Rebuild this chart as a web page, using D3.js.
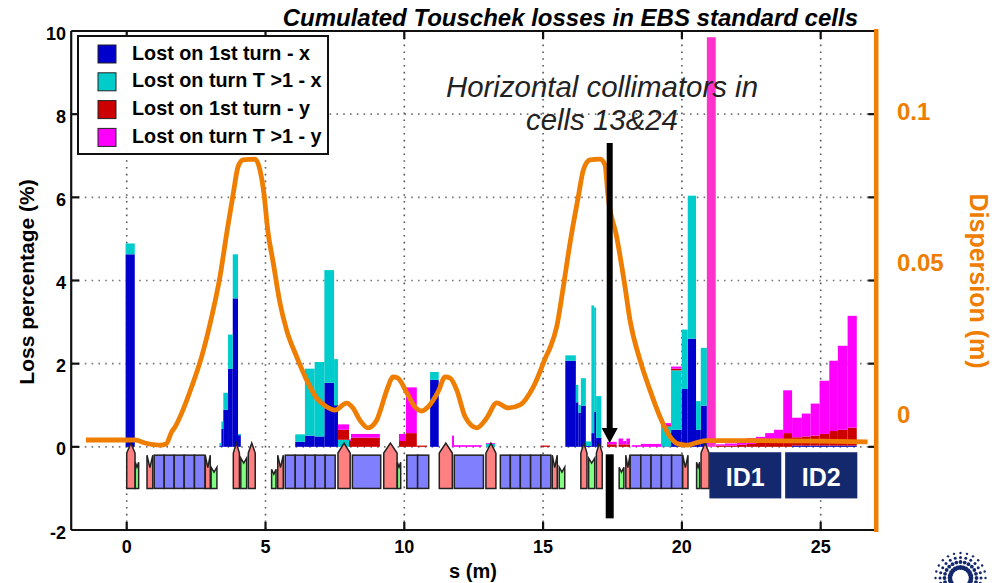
<!DOCTYPE html>
<html>

<head>
  <meta charset="UTF-8">
  <title>Cumulated Touschek losses</title>
  <script src="https://d3js.org/d3.v7.min.js"></script>
  <style>
    body {
      margin: 0;
      padding: 0;
      background: white;
      overflow: hidden;
    }

    svg {
      display: block;
      font-family: "Liberation Sans", Arial, sans-serif;
    }

    .tick-label {
      font-size: 18px;
      font-weight: bold;
    }

    .legend-text {
      font-size: 19.8px;
      font-weight: bold;
    }
  </style>
</head>

<body>
  <svg id="chart" width="1000" height="583"></svg>

  <script>
    // loss bins, s in metres
    var binStart = [-0.04, 3.34, 3.41, 3.48, 3.65, 3.82, 4.01, 6.07, 6.42, 6.77, 7.12, 7.47, 7.61, 8.01, 8.08, 9.81, 10.06, 10.45, 10.93, 11.72, 11.79, 12.94, 14.91, 15.8, 16.18, 16.27, 16.36, 16.54, 16.74, 16.84, 16.91, 17.3, 17.72, 17.88, 18.0, 18.19, 18.52, 19.25, 19.61, 19.99, 20.21, 20.51, 20.68, 20.9, 21.23, 21.55, 21.98, 22.33, 22.67, 23.0, 23.32, 23.65, 23.97, 24.32, 24.64, 24.96, 25.31, 25.62, 25.97];
    var binEnd = [0.29, 3.41, 3.48, 3.65, 3.82, 4.01, 4.11, 6.42, 6.77, 7.12, 7.47, 7.61, 8.01, 8.08, 9.12, 10.06, 10.45, 10.82, 11.24, 11.79, 12.79, 13.27, 15.25, 16.18, 16.27, 16.36, 16.54, 16.74, 16.84, 16.91, 17.1, 17.65, 17.88, 18.0, 18.13, 18.52, 19.25, 19.61, 19.99, 20.21, 20.51, 20.68, 20.9, 21.22, 21.55, 21.98, 22.33, 22.67, 23.0, 23.32, 23.65, 23.97, 24.32, 24.64, 24.96, 25.31, 25.62, 25.97, 26.3];
    var lost1x = [4.63, 0.03, 0.43, 0.89, 1.88, 3.57, 0.28, 0.12, 0.27, 0.25, 1.54, 1.0, 0, 0, 0, 0, 0, 0, 1.61, 0, 0, 0, 0, 2.07, 1.07, 0.82, 0.99, 0.02, 0.33, 0.85, 0.22, 0, 0, 0, 0, 0, 0, 0.01, 0.41, 1.39, 2.6, 0.41, 0.99, 0, 0, 0, 0, 0, 0, 0, 0, 0, 0.03, 0.03, 0.03, 0.03, 0.03, 0.03, 0.03];
    var lostTx = [0.26, 0.06, 0.18, 0.41, 0.82, 1.06, 0.03, 0.18, 1.61, 1.79, 2.71, 1.11, 0.17, 0, 0, 0, 0, 0, 0.19, 0, 0, 0.07, 0, 0.13, 0.42, 0.19, 0.66, 0.11, 3.07, 2.5, 1.0, 0, 0, 0, 0, 0, 0, 0.48, 1.43, 1.43, 3.44, 0.69, 1.39, 0, 0, 0, 0, 0, 0, 0, 0, 0, 0, 0, 0, 0, 0, 0, 0];
    var lost1y = [0, 0, 0, 0, 0, 0, 0, 0, 0, 0, 0, 0, 0.24, 0.14, 0.22, 0.14, 0.33, 0.03, 0, 0, 0, 0, 0.03, 0, 0, 0, 0, 0, 0, 0, 0, 0.06, 0.06, 0.06, 0.06, 0, 0, 0.03, 0.04, 0, 0, 0, 0, 0, 0.03, 0.03, 0.05, 0.07, 0.1, 0.14, 0.19, 0.33, 0.2, 0.22, 0.24, 0.28, 0.35, 0.38, 0.43];
    var lostTy = [0, 0, 0, 0, 0, 0, 0, 0, 0, 0, 0, 0, 0.13, 0.04, 0.09, 0.17, 1.1, 0, 0, 0.27, 0.04, 0.02, 0, 0, 0, 0, 0, 0, 0, 0, 0, 0.06, 0.14, 0.08, 0.14, 0.04, 0.07, 0.05, 0.05, 0, 0, 0, 0, 0, 0.03, 0.05, 0.08, 0.14, 0.14, 0.19, 0.22, 1.03, 0.47, 0.55, 0.77, 1.28, 1.69, 2.02, 2.69];
    // the tall bar in front of cell end, it has its own pink
    var lostTyEnd = [0, 0, 0, 0, 0, 0, 0, 0, 0, 0, 0, 0, 0, 0, 0, 0, 0, 0, 0, 0, 0, 0, 0, 0, 0, 0, 0, 0, 0, 0, 0, 0, 0, 0, 0, 0, 0, 0, 0, 0, 0, 0, 0, 9.85, 0, 0, 0, 0, 0, 0, 0, 0, 0, 0, 0, 0, 0, 0, 0];

    var legendLabels = ["Lost on 1st turn - x", "Lost on turn T >1 - x", "Lost on 1st turn - y", "Lost on turn T >1 - y"];

    // dispersion curve
    var dispS = [-1.47, 0.30, 0.66, 1.20, 1.42, 1.62, 1.74, 1.98, 2.34, 2.70, 3.06, 3.36, 3.62, 3.83, 4.01, 4.19, 4.62, 4.80, 4.95, 5.08, 5.28, 5.52, 5.76, 6.12, 6.48, 6.84, 7.20, 7.50, 7.92, 8.15, 8.40, 8.69, 9.01, 9.12, 9.37, 9.60, 9.77, 10.09, 10.38, 10.63, 10.86, 11.22, 11.47, 11.65, 11.89, 12.19, 12.61, 12.97, 13.33, 13.75, 14.17, 14.65, 15.13, 15.25, 15.49, 15.73, 15.97, 16.27, 16.45, 16.69, 17.05, 17.23, 17.34, 17.65, 17.95, 18.13, 18.49, 18.85, 19.21, 19.57, 19.86, 20.17, 20.53, 20.89, 22.45, 26.69];
    var dispVal = [-0.0086, -0.0086, -0.0096, -0.0103, -0.0099, -0.0059, -0.0043, 0.0003, 0.0090, 0.0190, 0.0322, 0.0455, 0.0609, 0.0725, 0.0818, 0.0841, 0.0844, 0.0808, 0.0725, 0.0609, 0.0500, 0.0368, 0.0278, 0.0190, 0.0113, 0.0053, 0.0024, 0.0013, 0.0036, 0.0020, -0.0020, -0.0046, -0.0020, 0.0007, 0.0079, 0.0123, 0.0119, 0.0070, 0.0024, 0.0010, 0.0024, 0.0074, 0.0123, 0.0119, 0.0079, -0.0009, -0.0046, -0.0013, 0.0037, 0.0020, 0.0030, 0.0090, 0.0195, 0.0219, 0.0289, 0.0422, 0.0566, 0.0720, 0.0808, 0.0841, 0.0844, 0.0825, 0.0720, 0.0587, 0.0422, 0.0311, 0.0179, 0.0079, -0.0009, -0.0075, -0.0099, -0.0103, -0.0095, -0.0088, -0.0088, -0.0092];

    // lattice magnets along s
    var dipoleEdges = [
      [0.99, 1.35, 1.71, 2.07, 2.44, 2.82],
      [5.71, 6.07, 6.43, 6.79, 7.15, 7.51],
      [8.13, 9.15],
      [10.09, 10.48, 10.88],
      [11.80, 12.85],
      [13.46, 13.82, 14.18, 14.55, 14.92, 15.28],
      [18.13, 18.52, 18.89, 19.26, 19.63, 20.02]
    ];
    var quadStart = [0, 3.84, 4.38, 7.61, 9.26, 11.26, 12.94, 16.36, 16.92, 20.69];
    var quadEnd = [0.30, 4.06, 4.63, 8.05, 9.74, 11.73, 13.30, 16.58, 17.13, 20.98];
    var smallQuadStart = [0.73, 2.83, 5.44, 15.33, 17.98, 20.03];
    var smallQuadEnd = [0.94, 3.01, 5.64, 15.51, 18.13, 20.22];
    var sextStart = [0.31, 3.04, 4.11, 5.22, 9.75, 15.58, 16.64, 17.74, 20.53];
    var sextEnd = [0.43, 3.25, 4.32, 5.38, 9.87, 15.78, 16.86, 17.91, 20.64];
    var sextTop = [-0.37, -0.49, -0.27, -0.54, -0.37, -0.49, -0.27, -0.49, -0.37];

    var xTicks = [0, 5, 10, 15, 20, 25];
    var yTicks = [-2, 0, 2, 4, 6, 8, 10];
    var dispTicks = [0, 0.05, 0.1];

    var colors = ["#0000cc", "#00cccc", "#cc0000", "#ff00ff", "#ff33cc"];
    var orange = "#ee7d00";

    var svg = d3.select("#chart");

    var x = d3.scaleLinear().domain([-2, 27]).range([71.2, 876.2]);
    var y = d3.scaleLinear().domain([-2, 10]).range([530, 31]);
    var yDisp = d3.scaleLinear().domain([-0.0384, 0.1268]).range([530, 31]);

    // grid
    svg.append("g").selectAll("line").data(xTicks).enter().append("line")
      .attr("x1", d => x(d)).attr("x2", d => x(d))
      .attr("y1", y(10)).attr("y2", y(-2))
      .attr("stroke", "#555").attr("stroke-width", 1.6).attr("stroke-dasharray", "1.6 5.2");
    svg.append("g").selectAll("line").data(yTicks.slice(1, -1)).enter().append("line")
      .attr("x1", x(-2)).attr("x2", x(27))
      .attr("y1", d => y(d)).attr("y2", d => y(d))
      .attr("stroke", "#777").attr("stroke-width", 1.6).attr("stroke-dasharray", "1.6 5.2");

    // stacked loss bars
    var rows = binStart.map(function (s, i) {
      return { start: s, end: binEnd[i], a: lost1x[i], b: lostTx[i], c: lost1y[i], d: lostTy[i], e: lostTyEnd[i] };
    });
    var stack = d3.stack().keys(["a", "b", "c", "d", "e"]);
    svg.append("g").selectAll("g").data(stack(rows)).enter().append("g")
      .attr("fill", (d, i) => colors[i])
      .selectAll("rect").data(d => d.filter(p => p[1] > p[0])).enter().append("rect")
      .attr("x", d => x(d.data.start))
      .attr("width", d => x(d.data.end) - x(d.data.start))
      .attr("y", d => y(d[1]))
      .attr("height", d => y(d[0]) - y(d[1]));

    // lattice
    var lattice = svg.append("g").attr("stroke", "#222").attr("stroke-width", 1.5).attr("stroke-linejoin", "miter");
    var poly = d3.line().x(d => x(d[0])).y(d => y(d[1]));

    dipoleEdges.forEach(function (edges) {
      d3.pairs(edges).forEach(function (p) {
        lattice.append("rect")
          .attr("x", x(p[0])).attr("width", x(p[1]) - x(p[0]))
          .attr("y", y(-0.2)).attr("height", y(-1) - y(-0.2))
          .attr("fill", "#8080ff");
      });
    });
    quadStart.forEach(function (s, i) {
      var e = quadEnd[i];
      lattice.append("path")
        .attr("d", poly([[s, -1], [s, -0.15], [(s + e) / 2, 0.09], [e, -0.15], [e, -1]]) + "Z")
        .attr("fill", "#ff8080");
    });
    smallQuadStart.forEach(function (s, i) {
      var e = smallQuadEnd[i];
      lattice.append("path")
        .attr("d", poly([[s, -1], [s, -0.2], [(s + e) / 2, -0.5], [e, -0.2], [e, -1]]) + "Z")
        .attr("fill", "#ff8080");
    });
    sextStart.forEach(function (s, i) {
      var e = sextEnd[i], t = sextTop[i];
      lattice.append("path")
        .attr("d", poly([[s, -1], [s, t], [(s + e) / 2, t - 0.12], [e, t], [e, -1]]) + "Z")
        .attr("fill", "#80ff80");
    });

    // ID boxes
    var idBoxes = [{ s0: 20.99, s1: 23.58, name: "ID1" }, { s0: 23.72, s1: 26.32, name: "ID2" }];
    idBoxes.forEach(function (b) {
      svg.append("rect")
        .attr("x", x(b.s0)).attr("width", x(b.s1) - x(b.s0))
        .attr("y", y(-0.13)).attr("height", y(-1.24) - y(-0.13))
        .attr("fill", "#14286e");
      svg.append("text")
        .attr("x", (x(b.s0) + x(b.s1)) / 2).attr("y", 486)
        .attr("text-anchor", "middle")
        .attr("fill", "white").attr("font-size", 25).attr("font-weight", "bold")
        .text(b.name);
    });

    // dispersion
    svg.append("path")
      .datum(dispS.map((s, i) => [s, dispVal[i]]))
      .attr("fill", "none")
      .attr("stroke", orange)
      .attr("stroke-width", 4.8)
      .attr("stroke-linejoin", "round")
      .attr("d", d3.line().x(d => x(d[0])).y(d => yDisp(d[1])).curve(d3.curveMonotoneX));

    // frame
    var frame = svg.append("g").attr("stroke", "#111").attr("stroke-width", 2.2);
    frame.append("line").attr("x1", x(-2)).attr("x2", x(-2)).attr("y1", y(10)).attr("y2", y(-2));
    frame.append("line").attr("x1", x(-2)).attr("x2", x(27)).attr("y1", y(10)).attr("y2", y(10));
    frame.append("line").attr("x1", x(-2)).attr("x2", x(27)).attr("y1", y(-2)).attr("y2", y(-2));
    xTicks.forEach(function (t) {
      frame.append("line").attr("x1", x(t)).attr("x2", x(t)).attr("y1", y(-2)).attr("y2", y(-2) - 8);
      frame.append("line").attr("x1", x(t)).attr("x2", x(t)).attr("y1", y(10)).attr("y2", y(10) + 8);
    });
    yTicks.slice(1, -1).forEach(function (t) {
      frame.append("line").attr("x1", x(-2)).attr("x2", x(-2) + 8).attr("y1", y(t)).attr("y2", y(t));
      frame.append("line").attr("x1", x(27)).attr("x2", x(27) - 8).attr("y1", y(t)).attr("y2", y(t));
    });
    svg.append("line")
      .attr("x1", x(27)).attr("x2", x(27)).attr("y1", y(10) - 2).attr("y2", y(-2) + 2)
      .attr("stroke", orange).attr("stroke-width", 4.5);

    // tick labels
    xTicks.forEach(function (t) {
      svg.append("text").attr("class", "tick-label").attr("x", x(t)).attr("y", 553)
        .attr("text-anchor", "middle").text(t);
    });
    yTicks.forEach(function (t) {
      svg.append("text").attr("class", "tick-label").attr("x", 66).attr("y", y(t) + 8.5)
        .attr("text-anchor", "end").text(t);
    });
    dispTicks.forEach(function (t) {
      svg.append("text").attr("x", 897).attr("y", yDisp(t) + 8.5)
        .attr("fill", orange).attr("font-size", 24).attr("font-weight", "bold").text(t);
    });

    // axis titles
    svg.append("text").attr("x", 473).attr("y", 578).attr("text-anchor", "middle")
      .attr("font-size", 20).attr("font-weight", "bold").text("s (m)");
    svg.append("text").attr("transform", "translate(34,282) rotate(-90)").attr("text-anchor", "middle")
      .attr("font-size", 21).attr("font-weight", "bold").text("Loss percentage (%)");
    svg.append("text").attr("transform", "translate(970,281) rotate(90)").attr("text-anchor", "middle")
      .attr("fill", orange).attr("font-size", 25).attr("font-weight", "bold").text("Dispersion (m)");
    svg.append("text").attr("x", 858).attr("y", 25.5).attr("text-anchor", "end")
      .attr("font-size", 24).attr("font-weight", "bold").attr("font-style", "italic")
      .text("Cumulated Touschek losses in EBS standard cells");

    // legend
    svg.append("rect").attr("x", 78).attr("y", 36).attr("width", 250).attr("height", 118)
      .attr("fill", "white").attr("stroke", "#111").attr("stroke-width", 2);
    legendLabels.forEach(function (label, i) {
      var ly = 53.5 + i * 27.8;
      svg.append("rect").attr("x", 98).attr("y", ly - 8.5).attr("width", 18).attr("height", 18)
        .attr("fill", colors[i]).attr("stroke", "#222").attr("stroke-width", 1);
      svg.append("text").attr("class", "legend-text").attr("x", 132).attr("y", ly + 6).text(label);
    });

    // collimator annotation
    svg.append("text").attr("x", 602).attr("y", 97).attr("text-anchor", "middle")
      .attr("font-size", 29.4).attr("font-style", "italic").attr("fill", "#222").text("Horizontal collimators in");
    svg.append("text").attr("x", 602).attr("y", 130).attr("text-anchor", "middle")
      .attr("font-size", 29.4).attr("font-style", "italic").attr("fill", "#222").text("cells 13&24");

    var colS = 17.4;
    svg.append("line").attr("x1", x(colS)).attr("x2", x(colS)).attr("y1", 143).attr("y2", 430)
      .attr("stroke", "black").attr("stroke-width", 6);
    svg.append("path").attr("fill", "black")
      .attr("d", poly([[colS - 0.29, 0.45], [colS + 0.29, 0.45], [colS, 0.09]]) + "Z");
    svg.append("rect").attr("x", x(colS) - 4).attr("width", 8)
      .attr("y", y(-0.18)).attr("height", y(-1.72) - y(-0.18)).attr("fill", "black");

    // logo, lower right corner
    var logo = svg.append("g").attr("fill", "#14286e");
    [[10.5, 2.4], [16, 1.9], [20.5, 1.5], [25, 1.2]].forEach(function (ring) {
      d3.range(0, 360, 15).forEach(function (deg) {
        var a = deg * Math.PI / 180;
        var cy = 578 + ring[0] * Math.sin(a);
        if (cy > 585) return;
        logo.append("circle")
          .attr("cx", 960.5 + ring[0] * Math.cos(a)).attr("cy", cy).attr("r", ring[1]);
      });
    });
  </script>
</body>

</html>
